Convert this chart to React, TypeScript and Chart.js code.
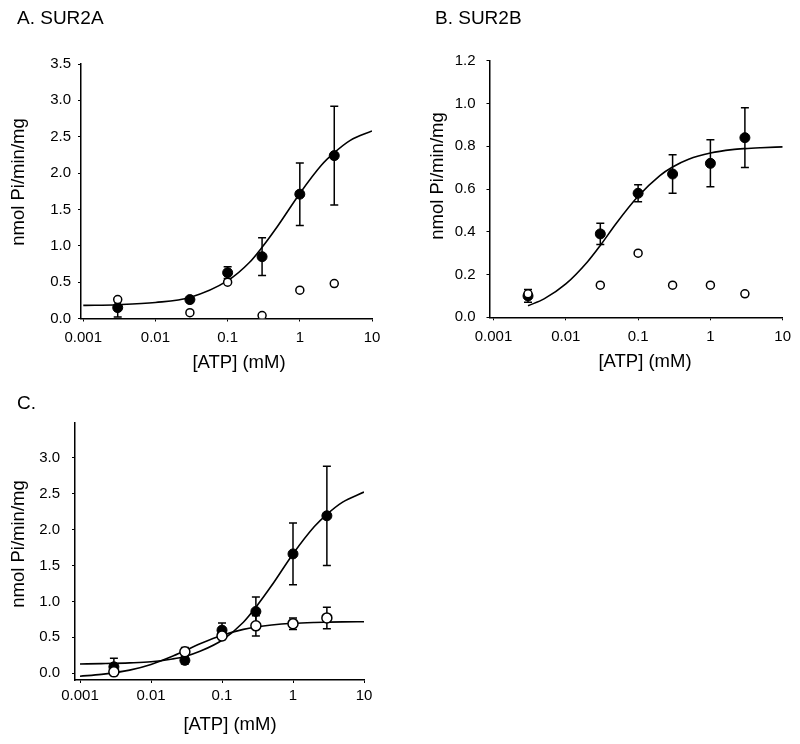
import React, { useEffect, useRef } from "react";
import { Chart, registerables } from "chart.js";
Chart.register(...registerables);

// ---------- shared ----------
const ATP_MM = [0.003, 0.03, 0.1, 0.3, 1, 3];
const X_TICKS = [0.001, 0.01, 0.1, 1, 10];
const X_TICK_LABELS = ["0.001", "0.01", "0.1", "1", "10"];
const X_TITLE = "[ATP] (mM)";
const Y_TITLE = "nmol Pi/min/mg";

// ---------- Panel A: SUR2A ----------
const A_TITLE = "A. SUR2A";
const A_FILLED = [0.15, 0.26, 0.63, 0.85, 1.71, 2.24];
const A_FILLED_ERR = [0.13, 0.03, 0.08, 0.26, 0.43, 0.68];
const A_OPEN = [0.26, 0.08, 0.5, 0.04, 0.39, 0.48];
const A_FIT_X = [0.001, 0.003, 0.01, 0.03, 0.1, 0.2, 0.3, 0.5, 1, 2, 3, 5, 10];
const A_FIT_Y = [0.18, 0.19, 0.22, 0.29, 0.52, 0.77, 0.98, 1.28, 1.72, 2.11, 2.28, 2.45, 2.58];
const A_Y_TICKS = [0, 0.5, 1, 1.5, 2, 2.5, 3, 3.5];
const A_Y_LABELS = ["0.0", "0.5", "1.0", "1.5", "2.0", "2.5", "3.0", "3.5"];

// ---------- Panel B: SUR2B ----------
const B_TITLE = "B. SUR2B";
const B_FILLED = [0.1, 0.39, 0.58, 0.67, 0.72, 0.84];
const B_FILLED_ERR = [0.03, 0.05, 0.04, 0.09, 0.11, 0.14];
const B_OPEN = [0.11, 0.15, 0.3, 0.15, 0.15, 0.11];
const B_FIT_X = [0.003, 0.005, 0.01, 0.02, 0.03, 0.05, 0.1, 0.2, 0.3, 0.5, 1, 2, 3, 5, 10];
const B_FIT_Y = [0.054, 0.086, 0.156, 0.26, 0.336, 0.44, 0.566, 0.663, 0.703, 0.739, 0.768, 0.784, 0.789, 0.793, 0.797];
const B_Y_TICKS = [0, 0.2, 0.4, 0.6, 0.8, 1.0, 1.2];
const B_Y_LABELS = ["0.0", "0.2", "0.4", "0.6", "0.8", "1.0", "1.2"];

// ---------- Panel C: overlay ----------
const C_TITLE = "C.";
const C_FILLED = [0.09, 0.18, 0.6, 0.86, 1.66, 2.19];
const C_FILLED_ERR = [0.12, 0.05, 0.1, 0.2, 0.43, 0.69];
const C_OPEN = [0.02, 0.3, 0.52, 0.66, 0.69, 0.77];
const C_OPEN_ERR = [0.03, 0.06, 0.05, 0.14, 0.08, 0.15];
const C_FIT_X = [0.001, 0.002, 0.005, 0.01, 0.02, 0.03, 0.05, 0.1, 0.2, 0.3, 0.5, 1, 2, 3, 5, 10];
const C_FILLED_FIT_Y = [0.13, 0.135, 0.145, 0.16, 0.2, 0.235, 0.31, 0.46, 0.71, 0.92, 1.22, 1.66, 2.04, 2.21, 2.38, 2.52];
const C_OPEN_FIT_Y = [-0.04, -0.015, 0.044, 0.123, 0.237, 0.314, 0.413, 0.529, 0.611, 0.644, 0.672, 0.695, 0.707, 0.711, 0.715, 0.717];
const C_Y_TICKS = [0, 0.5, 1, 1.5, 2, 2.5, 3];
const C_Y_LABELS = ["0.0", "0.5", "1.0", "1.5", "2.0", "2.5", "3.0"];

const FONT = "'Liberation Sans', Arial, Helvetica, sans-serif";

type TextItem = { text: string; x: number; y: number; size: number; rot?: boolean; align?: CanvasTextAlign };

type PanelProps = {
  left: number;
  top: number;
  width: number;
  height: number;
  area: { l: number; t: number; r: number; b: number };
  xMin: number;
  yMin: number;
  yMax: number;
  yTicks: number[];
  yLabels: string[];
  yPad: number;
  xPad: number;
  datasets: any[];
  texts: TextItem[];
};

function pts(xs: number[], ys: (number | null)[]) {
  return xs.map((x, i) => ({ x, y: ys[i] }));
}

function curve(xs: number[], ys: number[]) {
  return {
    data: pts(xs, ys),
    showLine: true,
    borderColor: "#000",
    borderWidth: 1.6,
    pointRadius: 0,
    cubicInterpolationMode: "monotone",
    order: 5,
  };
}

function filled(ys: number[], errs: number[], r = 5) {
  return {
    data: pts(ATP_MM, ys),
    errorBars: errs,
    showLine: false,
    pointRadius: r,
    pointBackgroundColor: "#000",
    pointBorderColor: "#000",
    pointBorderWidth: 1,
    order: 2,
  };
}

function open(ys: number[], errs: number[] | null, r = 4) {
  return {
    data: pts(ATP_MM, ys),
    errorBars: errs,
    showLine: false,
    pointRadius: r,
    pointBackgroundColor: "#fff",
    pointBorderColor: "#000",
    pointBorderWidth: 1.5,
    order: 1,
  };
}

const errorBarPlugin = {
  id: "errorBarsCustom",
  beforeDatasetsDraw(chart: any) {
    const ctx = chart.ctx;
    const xs = chart.scales.x;
    const ys = chart.scales.y;
    ctx.save();
    ctx.strokeStyle = "#000";
    ctx.lineWidth = 1.5;
    chart.data.datasets.forEach((ds: any) => {
      if (!ds.errorBars) return;
      ds.data.forEach((p: any, i: number) => {
        const e = ds.errorBars[i];
        if (!e || p.y == null) return;
        const px = xs.getPixelForValue(p.x);
        const y1 = ys.getPixelForValue(p.y + e);
        const y2 = ys.getPixelForValue(p.y - e);
        ctx.beginPath();
        ctx.moveTo(px, y1);
        ctx.lineTo(px, y2);
        ctx.moveTo(px - 4, y1);
        ctx.lineTo(px + 4, y1);
        ctx.moveTo(px - 4, y2);
        ctx.lineTo(px + 4, y2);
        ctx.stroke();
      });
    });
    ctx.restore();
  },
};

function Panel(props: PanelProps) {
  const ref = useRef<HTMLCanvasElement | null>(null);
  useEffect(() => {
    if (!ref.current) return;
    const p = props;
    const textPlugin = {
      id: "panelTexts",
      afterDraw(chart: any) {
        const ctx = chart.ctx;
        ctx.save();
        ctx.fillStyle = "#000";
        p.texts.forEach((t) => {
          ctx.font = `${t.size}px ${FONT}`;
          ctx.textBaseline = "middle";
          ctx.textAlign = t.align || "center";
          if (t.rot) {
            ctx.save();
            ctx.translate(t.x, t.y);
            ctx.rotate(-Math.PI / 2);
            ctx.fillText(t.text, 0, 0);
            ctx.restore();
          } else {
            ctx.fillText(t.text, t.x, t.y);
          }
        });
        ctx.restore();
      },
    };
    const chart = new Chart(ref.current, {
      type: "scatter",
      data: { datasets: p.datasets },
      plugins: [errorBarPlugin, textPlugin],
      options: {
        animation: false,
        responsive: false,
        maintainAspectRatio: false,
        devicePixelRatio: 1,
        layout: {
          padding: { top: p.area.t, left: 0, right: p.width - p.area.r, bottom: 0 },
        },
        plugins: { legend: { display: false }, tooltip: { enabled: false }, title: { display: false } },
        scales: {
          x: {
            type: "logarithmic",
            min: p.xMin,
            max: 10,
            bounds: "data",
            afterBuildTicks: (s: any) => {
              s.ticks = X_TICKS.map((v) => ({ value: v, major: true }));
            },
            afterFit: (s: any) => {
              s.height = p.height - p.area.b;
            },
            ticks: {
              autoSkip: false,
              maxRotation: 0,
              minRotation: 0,
              padding: p.xPad,
              color: "#000",
              font: { family: FONT, size: 15 },
              callback: (_v: any, i: number) => X_TICK_LABELS[i],
            },
            grid: { display: true, drawOnChartArea: false, drawTicks: true, tickLength: 3, color: "#000", lineWidth: 1 },
            border: { display: true, color: "#000", width: 1.5 },
          },
          y: {
            type: "linear",
            min: p.yMin,
            max: p.yMax,
            afterBuildTicks: (s: any) => {
              s.ticks = p.yTicks.map((v) => ({ value: v }));
            },
            afterFit: (s: any) => {
              s.width = p.area.l;
            },
            ticks: {
              autoSkip: false,
              padding: p.yPad,
              color: "#000",
              font: { family: FONT, size: 15 },
              callback: (_v: any, i: number) => p.yLabels[i],
            },
            grid: { display: true, drawOnChartArea: false, drawTicks: true, tickLength: 3, color: "#000", lineWidth: 1 },
            border: { display: true, color: "#000", width: 1.5 },
          },
        },
      } as any,
    });
    return () => chart.destroy();
  }, []);
  return (
    <canvas
      ref={ref}
      width={props.width}
      height={props.height}
      style={{ position: "absolute", left: props.left, top: props.top, width: props.width, height: props.height }}
    />
  );
}

export default function App() {
  return (
    <div style={{ position: "absolute", left: 0, top: 0, width: 800, height: 744, background: "#fff", overflow: "hidden" }}>
      <Panel
        left={0}
        top={0}
        width={400}
        height={380}
        area={{ l: 81, t: 64, r: 372, b: 318.5 }}
        xMin={0.00093}
        yMin={0}
        yMax={3.5}
        yTicks={A_Y_TICKS}
        yLabels={A_Y_LABELS}
        yPad={7}
        xPad={7.5}
        datasets={[open(A_OPEN, null, 4), filled(A_FILLED, A_FILLED_ERR), curve(A_FIT_X, A_FIT_Y)]}
        texts={[
          { text: A_TITLE, x: 17, y: 19, size: 19, align: "left" },
          { text: Y_TITLE, x: 19, y: 182, size: 18.5, rot: true },
          { text: X_TITLE, x: 239, y: 363, size: 18.5 },
        ]}
      />
      <Panel
        left={400}
        top={0}
        width={400}
        height={380}
        area={{ l: 89.5, t: 60.7, r: 382.7, b: 317.3 }}
        xMin={0.00088}
        yMin={0}
        yMax={1.2}
        yTicks={B_Y_TICKS}
        yLabels={B_Y_LABELS}
        yPad={11}
        xPad={7.5}
        datasets={[open(B_OPEN, null, 4), filled(B_FILLED, B_FILLED_ERR), curve(B_FIT_X, B_FIT_Y)]}
        texts={[
          { text: B_TITLE, x: 35, y: 19, size: 19, align: "left" },
          { text: Y_TITLE, x: 37.5, y: 176, size: 18.5, rot: true },
          { text: X_TITLE, x: 245, y: 362, size: 18.5 },
        ]}
      />
      <Panel
        left={0}
        top={380}
        width={400}
        height={364}
        area={{ l: 75, t: 42.3, r: 364, b: 300 }}
        xMin={0.00085}
        yMin={-0.093}
        yMax={3.49}
        yTicks={C_Y_TICKS}
        yLabels={C_Y_LABELS}
        yPad={12}
        xPad={4}
        datasets={[
          open(C_OPEN, C_OPEN_ERR, 5),
          filled(C_FILLED, C_FILLED_ERR),
          curve(C_FIT_X, C_FILLED_FIT_Y),
          curve(C_FIT_X, C_OPEN_FIT_Y),
        ]}
        texts={[
          { text: C_TITLE, x: 17, y: 23.5, size: 19, align: "left" },
          { text: Y_TITLE, x: 19, y: 164, size: 18.5, rot: true },
          { text: X_TITLE, x: 230, y: 345, size: 18.5 },
        ]}
      />
    </div>
  );
}
